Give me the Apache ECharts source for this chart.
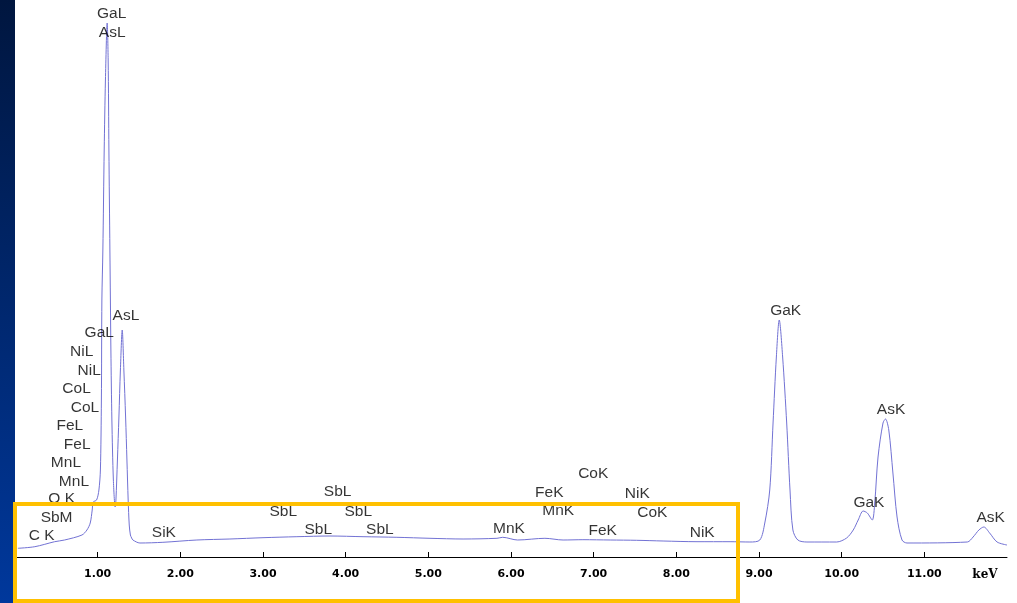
<!DOCTYPE html>
<html>
<head>
<meta charset="utf-8">
<script src="https://cdn.jsdelivr.net/npm/echarts@6/dist/echarts.min.js"></script>
<style>
html,body{margin:0;padding:0;background:#fff;}
#chart{width:1017px;height:603px;}
</style>
</head>
<body>
<div id="chart"></div>
<script>
// Spectrum: energy (keV) and counts
const energy = [0.035,0.24,0.48,0.60,0.81,0.87,0.91,0.934,0.946,0.987,1.015,1.033,1.045,1.051,1.063,1.079,1.094,1.115,1.127,1.136,1.148,1.154,1.160,1.172,1.190,1.212,1.221,1.239,1.257,1.275,1.297,1.317,1.338,1.354,1.369,1.382,1.396,1.411,1.426,1.511,1.789,2.20,2.60,3.00,3.41,3.81,4.21,4.62,5.02,5.42,5.83,5.90,6.08,6.41,6.63,6.87,7.20,7.52,7.84,8.25,8.65,8.89,9.01,9.07,9.13,9.17,9.21,9.245,9.286,9.335,9.375,9.41,9.47,9.58,9.94,10.06,10.14,10.20,10.26,10.31,10.37,10.40,10.44,10.50,10.53,10.57,10.62,10.67,10.73,10.79,11.52,11.59,11.66,11.72,11.79,11.88,12.0];
const counts = [87,103,153,170,220,270,340,470,550,570,670,870,1570,2570,3070,4070,4770,5340,4970,4070,3070,2570,2070,1370,770,500,570,970,1400,1870,2270,1870,1400,970,570,320,220,190,170,140,147,170,180,193,203,210,203,197,187,180,187,197,170,187,170,173,170,167,160,153,153,150,170,340,670,1340,2000,2370,2000,1340,670,270,170,150,150,190,270,370,460,440,370,540,1000,1340,1380,1270,840,400,170,140,150,200,270,300,240,150,120];

// Peak annotations
const peakNames = ['GaL','AsL','AsL','GaL','NiL','NiL','CoL','CoL','FeL','FeL','MnL','MnL','O K','SbM','C K','SiK','SbL','SbL','SbL','SbL','SbL','MnK','FeK','MnK','CoK','NiK','CoK','FeK','NiK','GaK','AsK','GaK','AsK'];
const peakEnergy = [1.169,1.176,1.342,1.019,0.806,0.898,0.745,0.846,0.664,0.752,0.616,0.713,0.564,0.503,0.322,1.801,3.903,3.245,4.152,3.668,4.414,5.975,6.463,6.571,6.995,7.527,7.709,7.109,8.313,9.323,10.597,10.330,11.803];
const peakLabelHeight = [5430,5247,2410,2240,2050,1863,1680,1493,1310,1127,940,753,580,397,210,243,653,453,453,277,277,280,647,460,830,630,443,260,243,2463,1470,547,393];

// Axis ticks
const tickValues = [1,2,3,4,5,6,7,8,9,10,11];
const axisUnit = 'keV';

const chart = echarts.init(document.getElementById('chart'), null, {renderer:'canvas'});
const lineData = energy.map((e,i)=>[e,counts[i]]);
const labelData = peakNames.map((n,i)=>({name:n, value:[peakEnergy[i], peakLabelHeight[i]]}));

chart.setOption({
  animation:false,
  backgroundColor:'#ffffff',
  grid:{left:15,right:10,top:0,bottom:46,containLabel:false},
  xAxis:{
    type:'value',min:0,max:12,interval:1,
    axisLine:{show:true,lineStyle:{color:'#000',width:1}},
    axisTick:{show:true,inside:true,length:5,customValues:tickValues,lineStyle:{color:'#000'}},
    axisLabel:{show:true,customValues:tickValues,margin:12,color:'#000',fontFamily:'DejaVu Sans',fontWeight:'bold',fontSize:11,formatter:v=>v.toFixed(2)},
    splitLine:{show:false}
  },
  yAxis:{type:'value',min:0,max:5570,show:false,splitLine:{show:false}},
  series:[
    {type:'line',data:lineData,showSymbol:false,smooth:0.3,lineStyle:{color:'#7272d4',width:1},silent:true,z:2},
    {type:'scatter',data:labelData,symbolSize:0,silent:true,z:3,
     label:{show:true,position:'inside',formatter:p=>p.name,color:'#000',fontFamily:'Liberation Sans',fontSize:15.5}}
  ],
  graphic:[
    {type:'rect',left:0,top:0,z:50,shape:{x:0,y:0,width:15,height:603},
     style:{fill:new echarts.graphic.LinearGradient(0,0,0,1,[{offset:0,color:'#00163f'},{offset:1,color:'#00389c'}])}},
    {type:'rect',z:100,shape:{x:15,y:504,width:723,height:97},
     style:{fill:'none',stroke:'#FFC000',lineWidth:4}},
    {type:'text',z:60,x:985,y:575,style:{text:axisUnit,fill:'#000',font:'bold 12px "DejaVu Serif"',align:'center',verticalAlign:'middle'}}
  ]
});
</script>
</body>
</html>
